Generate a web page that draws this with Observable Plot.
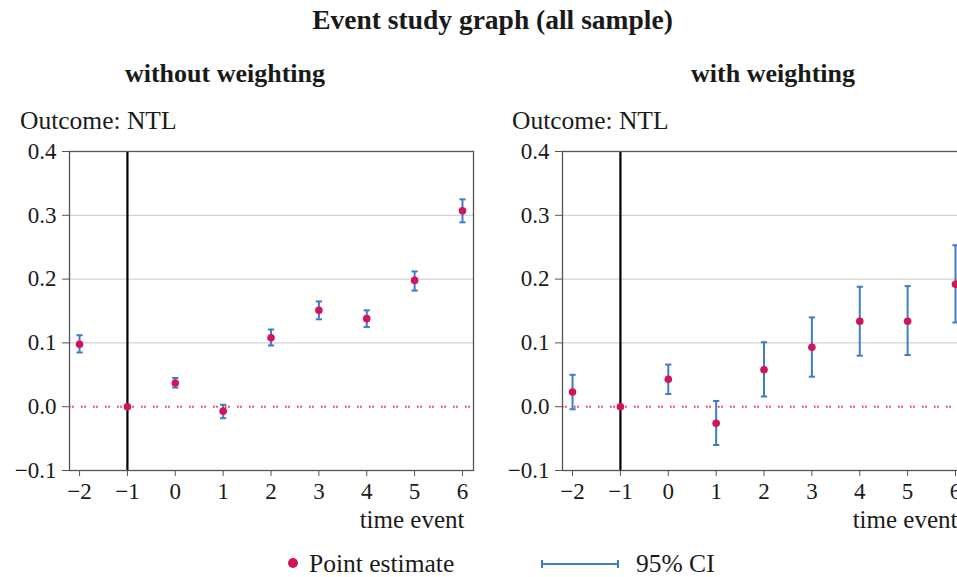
<!DOCTYPE html>
<html><head><meta charset="utf-8">
<script src="https://cdn.jsdelivr.net/npm/d3@7"></script>
<script src="https://cdn.jsdelivr.net/npm/@observablehq/plot@0.6"></script>
<style>
html,body{margin:0;padding:0;background:#fff;overflow:hidden;}
#root{position:relative;width:957px;height:577px;overflow:hidden;font-family:"Liberation Serif","DejaVu Serif",serif;color:#1a1a1a;}
.abs{position:absolute;white-space:nowrap;}
</style></head>
<body><div id="root"></div>
<script>
const times = [-2, -1, 0, 1, 2, 3, 4, 5, 6];
// without weighting
const est0 = [0.098, 0.0, 0.037, -0.007, 0.108, 0.151, 0.138, 0.198, 0.307];
const lo0  = [0.085, 0.0, 0.030, -0.018, 0.096, 0.137, 0.125, 0.182, 0.289];
const hi0  = [0.112, 0.0, 0.045, 0.003, 0.121, 0.165, 0.151, 0.212, 0.325];
// with weighting
const est1 = [0.023, 0.0, 0.043, -0.026, 0.058, 0.093, 0.134, 0.134, 0.192];
const lo1  = [-0.004, 0.0, 0.020, -0.060, 0.016, 0.047, 0.080, 0.081, 0.132];
const hi1  = [0.050, 0.0, 0.066, 0.009, 0.101, 0.140, 0.188, 0.189, 0.253];
const yTicks = [-0.1, 0.0, 0.1, 0.2, 0.3, 0.4];
const gridTicks = [0.1, 0.2, 0.3];
const panelTitles = ["without weighting", "with weighting"];
const title = "Event study graph (all sample)";
const yLabel = "Outcome: NTL";
const xLabel = "time event";

const ptColor = "#d4145a", ciColor = "#3d7cc9";
const root = document.getElementById("root");

function makeData(est, lo, hi) {
  return times.map((t, i) => ({t, est: est[i], lo: lo[i], hi: hi[i]}));
}

function panel(est, lo, hi, left) {
  const data = makeData(est, lo, hi);
  const ci = data.filter(d => d.t !== -1);
  const cap = 0.065;
  const p = Plot.plot({
    width: 69 + 404 + 20,
    height: 395,
    marginLeft: 69, marginRight: 20, marginTop: 11, marginBottom: 65,
    style: {fontFamily: "Liberation Serif, serif", fontSize: "23px", color: "#1a1a1a", background: "transparent", overflow: "visible"},
    x: {domain: [-2.21, 6.23], ticks: times, tickFormat: d3.format("d"), label: null},
    y: {domain: [-0.1, 0.4], ticks: yTicks, tickFormat: d3.format(".1f"), label: null},
    marks: [
      Plot.gridY(gridTicks, {stroke: "#c8c8c8", strokeOpacity: 1, strokeWidth: 1}),
      Plot.ruleY([0], {stroke: "#e8344e", strokeWidth: 2, strokeDasharray: "1.6,1.6,1.6,7.2"}),
      Plot.ruleX([-1], {stroke: "#000", strokeWidth: 2.2}),
      Plot.frame({stroke: "#555", strokeWidth: 1.3}),
      Plot.axisY({ticks: yTicks, tickFormat: d3.format(".1f"), tickSize: 7, tickPadding: 6, stroke: "#555", fontSize: 23, label: null}),
      Plot.axisX({ticks: times, tickFormat: d3.format("d"), tickSize: 6, tickPadding: 6, stroke: "#555", fontSize: 23, label: null}),
      Plot.ruleX(ci, {x: "t", y1: "lo", y2: "hi", stroke: ciColor, strokeWidth: 2}),
      Plot.link(ci, {x1: d => d.t - cap, x2: d => d.t + cap, y1: "hi", y2: "hi", stroke: ciColor, strokeWidth: 2}),
      Plot.link(ci, {x1: d => d.t - cap, x2: d => d.t + cap, y1: "lo", y2: "lo", stroke: ciColor, strokeWidth: 2}),
      Plot.dot(data, {x: "t", y: "est", r: 3.8, fill: ptColor, stroke: "none"}),
      Plot.text([xLabel], {frameAnchor: "bottom-right", dx: -9, dy: 57, text: d => d, fontSize: 25, textAnchor: "end", fill: "#1a1a1a"})
    ]
  });
  p.style.position = "absolute";
  p.style.left = left + "px";
  p.style.top = "140px";
  root.appendChild(p);
}

panel(est0, lo0, hi0, 0);
panel(est1, lo1, hi1, 493);

function addText(txt, css) {
  const d = document.createElement("div");
  d.className = "abs";
  d.textContent = txt;
  Object.assign(d.style, css);
  root.appendChild(d);
  return d;
}
addText(title, {left: "0px", width: "985px", textAlign: "center", top: "4px", fontSize: "27.5px", fontWeight: "bold"});
addText(panelTitles[0], {left: "0px", width: "450px", textAlign: "center", top: "59px", fontSize: "26px", fontWeight: "bold"});
addText(panelTitles[1], {left: "548px", width: "450px", textAlign: "center", top: "59px", fontSize: "26px", fontWeight: "bold"});
addText(yLabel, {left: "20px", top: "106px", fontSize: "25.5px"});
addText(yLabel, {left: "512px", top: "106px", fontSize: "25.5px"});

// legend
const leg = document.createElementNS("http://www.w3.org/2000/svg", "svg");
leg.setAttribute("width", 957); leg.setAttribute("height", 40);
leg.style.position = "absolute"; leg.style.left = "0px"; leg.style.top = "545px";
leg.innerHTML = `
<circle cx="293" cy="18" r="5" fill="${ptColor}"/>
<text x="309" y="27" font-size="25.5" font-family="Liberation Serif, serif" fill="#1a1a1a">Point estimate</text>
<line x1="542" x2="618" y1="19" y2="19" stroke="${ciColor}" stroke-width="2"/>
<line x1="542" x2="542" y1="15" y2="23" stroke="${ciColor}" stroke-width="2"/>
<line x1="618" x2="618" y1="15" y2="23" stroke="${ciColor}" stroke-width="2"/>
<text x="636" y="27" font-size="25.5" font-family="Liberation Serif, serif" fill="#1a1a1a">95% CI</text>`;
root.appendChild(leg);
</script>
</body></html>
